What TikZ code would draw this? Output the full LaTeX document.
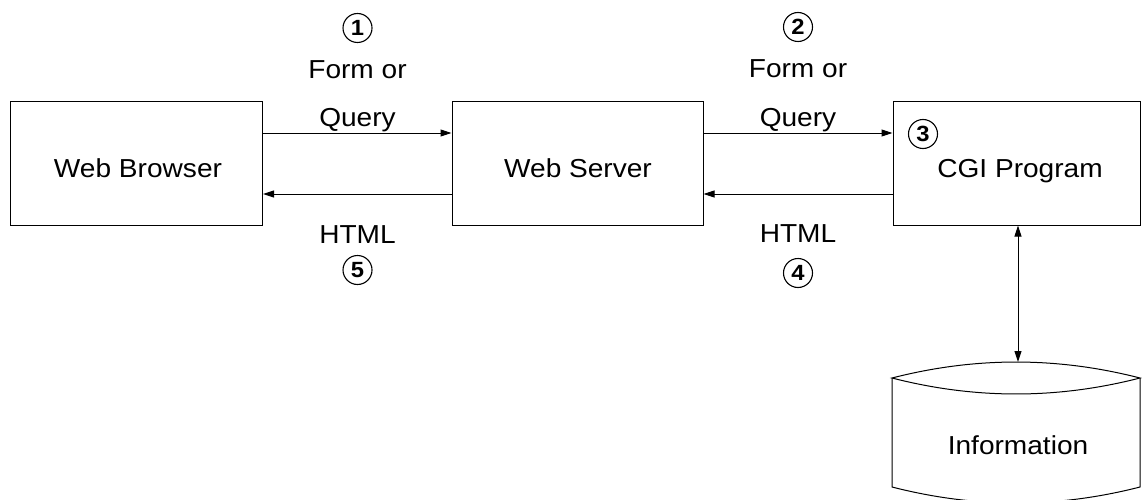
\documentclass[tikz,border=0pt]{standalone}
\usepackage{fontspec}
\setmainfont{Liberation Sans}[FakeStretch=1.08]
\usetikzlibrary{arrows.meta}
\begin{document}
\begin{tikzpicture}[x=1pt,y=-1pt,
  box/.style={draw, line width=1pt, minimum height=123pt, inner sep=0pt},
  lbl/.style={font=\fontsize{26}{29}\selectfont, anchor=base, inner sep=0pt},
  num/.style={draw, circle, line width=1.1pt, minimum size=29pt, inner sep=0pt, font=\fontsize{22}{24}\selectfont\bfseries},
  arr/.style={line width=1pt, -{Triangle[length=11pt,width=7pt]}},
  darr/.style={line width=1pt, {Triangle[length=11pt,width=7pt]}-{Triangle[length=11pt,width=7pt]}}]
\useasboundingbox (0,0) rectangle (1142,500);
\clip (0,0) rectangle (1142,500);
\fill[white] (0,0) rectangle (1142,500);
% boxes
\node[box, minimum width=252pt] (wb) at (136.5,163.5) {};
\node[box, minimum width=251pt] (ws) at (577.5,163.5) {};
\node[box, minimum width=247pt] (cgi) at (1016.5,163.5) {};
\node[lbl] (wbt) at (138,177) {Web Browser};
\node[lbl] (wst) at (578,177) {Web Server};
\node[lbl] (cgit) at (1020,177) {CGI Program};
% cylinder
\coordinate (infotop) at (1018,362);
\draw[line width=1pt] (892,378) .. controls (975,356.7) and (1057,356.7) .. (1140,378)
      .. controls (1057,399.3) and (975,399.3) .. (892,378) -- cycle;
\draw[line width=1pt] (892,378) -- (892,487) .. controls (975,508.3) and (1057,508.3) .. (1140,487) -- (1140,378);
\node[lbl] (info) at (1018,454) {Information};
% connectors
\draw[arr] ([yshift=30.5pt]wb.east) -- ([yshift=30.5pt]ws.west);
\draw[arr] ([yshift=-30.5pt]ws.west) -- ([yshift=-30.5pt]wb.east);
\draw[arr] ([yshift=30.5pt]ws.east) -- ([yshift=30.5pt]cgi.west);
\draw[arr] ([yshift=-30.5pt]cgi.west) -- ([yshift=-30.5pt]ws.east);
\draw[darr] (cgi.south -| infotop) -- (infotop);
% labels
\node[num] (n1) at (357.5,28) {1};
\node[lbl] (f1) at (357.5,79) {Form or};
\node[lbl] (q1) at (357.5,127) {Query};
\node[lbl] (h1) at (357.5,243) {HTML};
\node[num] (n5) at (357.5,270) {5};
\node[num] (n2) at (798,27) {2};
\node[lbl] (f2) at (798,78) {Form or};
\node[lbl] (q2) at (798,127) {Query};
\node[lbl] (h2) at (798,242) {HTML};
\node[num] (n4) at (798,273) {4};
\node[num] (n3) at (923,134) {3};
\end{tikzpicture}
\end{document}
